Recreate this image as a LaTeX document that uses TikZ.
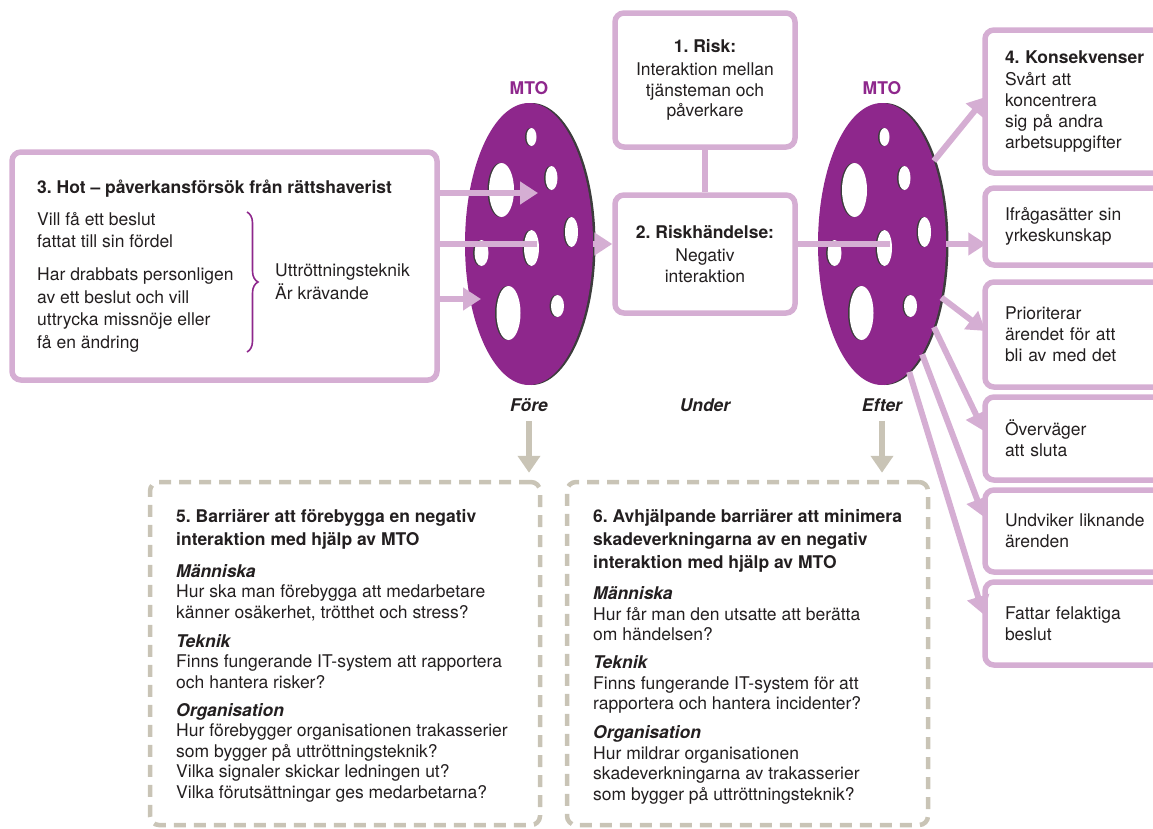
\documentclass[tikz,border=0pt]{standalone}
\usepackage{fontspec}
\setmainfont{TeX Gyre Heros}
\usepackage{tikz}
\usetikzlibrary{shapes.geometric,arrows.meta,calc,shadows,decorations.pathreplacing}
\definecolor{mtopurple}{HTML}{8E278C}
\definecolor{mtolilac}{HTML}{D5AED3}
\definecolor{mtobeige}{HTML}{C9C4B6}
\definecolor{mtoshade}{HTML}{3C3C3C}
\definecolor{mtoink}{HTML}{231F20}

% holes in an MTO disc, offsets from its centre
\newcommand{\mtoholes}[1]{%
  \foreach \dx/\dy/\rx/\ry in {1/-107/5/9, 21/-66/6/12, -29/-54/12.5/27, 41/-12/6.5/15,
                               -49/9/7/13, 1/4/7.5/18, -22/69/12/27, 27/62/6.5/11}{
    \fill[mtoshade] ($(#1.center)+(\dx,\dy)$) ellipse [x radius=\rx pt, y radius=\ry pt];
    \fill[white] ($(#1.center)+(\dx+1.5,\dy)$) ellipse [x radius=\rx pt, y radius=\ry pt];
  }}

\begin{document}
\frenchspacing
\begin{tikzpicture}[x=1pt,y=-1pt]

  \tikzstyle{txt}=[font=\fontsize{17.5}{20.5}\selectfont, text=mtoink, inner sep=0, align=left]
  \tikzstyle{box}=[draw=mtolilac, line width=5.5pt, rounded corners=9pt, inner sep=0]
  \tikzstyle{sidebox}=[box, minimum width=190pt, text width=150pt, inner xsep=20pt, align=left, text=mtoink, font=\fontsize{17.5}{21}\selectfont]
  \tikzstyle{midbox}=[box, minimum width=180pt, align=center, text=mtoink, font=\fontsize{17.5}{20.5}\selectfont]
  \tikzstyle{barrier}=[draw=mtobeige, line width=4.5pt, dash pattern=on 12pt off 8pt, rounded corners=9pt, minimum height=343pt]
  \tikzstyle{disc}=[ellipse, fill=mtopurple, minimum width=128pt, minimum height=282pt, inner sep=0, general shadow={shadow xshift=2.5pt, shadow yshift=0pt, fill=mtoshade}]
  \tikzstyle{link}=[draw=mtolilac, line width=6pt]
  \tikzstyle{flow}=[link, -{Triangle[length=18pt,width=22pt]}]
  \tikzstyle{down}=[draw=mtobeige, line width=6pt, -{Triangle[length=17pt,width=22pt]}]
  \tikzstyle{caption}=[font=\fontsize{17.5}{20}\selectfont\bfseries\itshape, text=mtoink]
  \tikzstyle{mto}=[font=\fontsize{17.5}{20}\selectfont\bfseries, text=mtopurple]

  \path[use as bounding box] (0,0) rectangle (1153,828);
  \clip (0,0) rectangle (1153,828);

  % threat box (multi-line texts sit on their last baseline)
  \path
  (224.5,266) node[box, minimum width=425pt, minimum height=228pt](hot){}
  (37,193) node[txt, anchor=base west](hottitle){\bfseries 3. Hot -- påverkansförsök från rättshaverist}
  (37,348) node[txt, anchor=base west, font=\fontsize{17.5}{22.5}\selectfont](hotwhy){Vill få ett beslut\\fattat till sin fördel\\[10.5pt]
     Har drabbats personligen\\av ett beslut och vill\\uttrycka missnöje eller\\få en ändring}
  (275,299) node[txt, anchor=base west, font=\fontsize{17.5}{23}\selectfont](hotway){Uttröttningsteknik\\Är krävande};
  \coordinate (bracetop) at (247,212);
  \coordinate (bracebot) at (247,352);
  \draw[draw=mtopurple, line width=1.6pt, decorate, decoration={brace, amplitude=11pt}] (bracetop) -- (bracebot);

  % risk and event
  \path
  (705,80) node[midbox, minimum height=134pt](risk){\bfseries 1. Risk:\\[3pt]Interaktion mellan\\tjänsteman och\\påverkare}
  (705,254) node[midbox, minimum height=118pt](event){\bfseries 2. Riskhändelse:\\[3pt]Negativ\\interaktion};

  % consequences
  \path
  (1080,101.5) node[sidebox, minimum height=143pt](k4){\bfseries 4. Konsekvenser\\[1pt]\mdseries Svårt att\\koncentrera\\sig på andra\\arbetsuppgifter}
  (1080,226.5) node[sidebox, minimum height=77pt](k5){Ifrågasätter sin\\yrkeskunskap}
  (1080,334.5) node[sidebox, minimum height=105pt](k6){Prioriterar\\ärendet för att\\bli av med det}
  (1080,438.5) node[sidebox, minimum height=83pt](k7){Överväger\\att sluta}
  (1080,531) node[sidebox, minimum height=82pt](k8){Undviker liknande\\ärenden}
  (1080,623.5) node[sidebox, minimum height=83pt](k9){Fattar felaktiga\\beslut};

  % barriers
  \path
  (345,653.5) node[barrier, minimum width=390pt](b5){}
  (747.5,653.5) node[barrier, minimum width=361pt](b6){};
  \path
  (176,798) node[txt, anchor=base west](b5text){\bfseries 5. Barriärer att förebygga en negativ\\[2.5pt]
     \bfseries interaktion med hjälp av MTO\\[11.5pt]
     \bfseries\itshape Människa\\Hur ska man förebygga att medarbetare\\känner osäkerhet, trötthet och stress?\\[8.5pt]
     \bfseries\itshape Teknik\\Finns fungerande IT-system att rapportera\\och hantera risker?\\[7.5pt]
     \bfseries\itshape Organisation\\Hur förebygger organisationen trakasserier\\som bygger på uttröttningsteknik?\\
     Vilka signaler skickar ledningen ut?\\Vilka förutsättningar ges medarbetarna?}
  (593,800) node[txt, anchor=base west](b6text){\bfseries 6. Avhjälpande barriärer att minimera\\[2.5pt]
     \bfseries skadeverkningarna av en negativ\\[2.5pt]
     \bfseries interaktion med hjälp av MTO\\[10.5pt]
     \bfseries\itshape Människa\\Hur får man den utsatte att berätta\\om händelsen?\\[7.5pt]
     \bfseries\itshape Teknik\\Finns fungerande IT-system för att\\rapportera och hantera incidenter?\\[8.5pt]
     \bfseries\itshape Organisation\\Hur mildrar organisationen\\skadeverkningarna av trakasserier\\som bygger på uttröttningsteknik?};

  % MTO discs
  \path
  (529,244) node[disc](e1){}
  (882,244) node[disc](e2){};
  \mtoholes{e1}
  \mtoholes{e2}

  \path
  (529,88) node[mto](m1){MTO}
  (882,88) node[mto](m2){MTO}
  (529,405) node[caption](fore){Före}
  (705,405) node[caption](under){Under}
  (882,405) node[caption](efter){Efter};

  \coordinate (hit1) at (538,193);
  \coordinate (hit3) at (481,299);

  \draw[flow] (hot.east |- hit1) -- (hit1);
  \draw[link] (hot.east |- e1) -- ($(e1.center)+(8,0)$);
  \draw[flow] (hot.east |- hit3) -- (hit3);
  \draw[flow] (e1.east) -- (e1.east -| event.west);

  \draw[link] (risk) -- (event);
  \draw[link] (event.east |- e2) -- ($(e2.center)+(8,0)$);

  \draw[flow, shorten >=-6pt] (e2.58) -- (k4.west);
  \draw[flow, shorten >=-4pt] (e2.east) -- (e2.east -| k5.west);
  \draw[flow, shorten >=-4pt] (e2.-42) -- ([yshift=6pt]k6.west);
  \draw[flow, shorten >=-4pt] (e2.-58) -- ([yshift=11pt]k7.west);
  \draw[flow, shorten >=-4pt] (e2.-70) -- ([yshift=18pt]k8.west);
  \draw[flow, shorten >=-4pt] (e2.-78.5) -- ([yshift=13pt]k9.west);

  \draw[down, shorten <=6pt, shorten >=7pt] (fore.south) -- (fore.south |- b5.north);
  \draw[down, shorten <=6pt, shorten >=7pt] (efter.south) -- (efter.south |- b6.north);
\end{tikzpicture}
\end{document}
